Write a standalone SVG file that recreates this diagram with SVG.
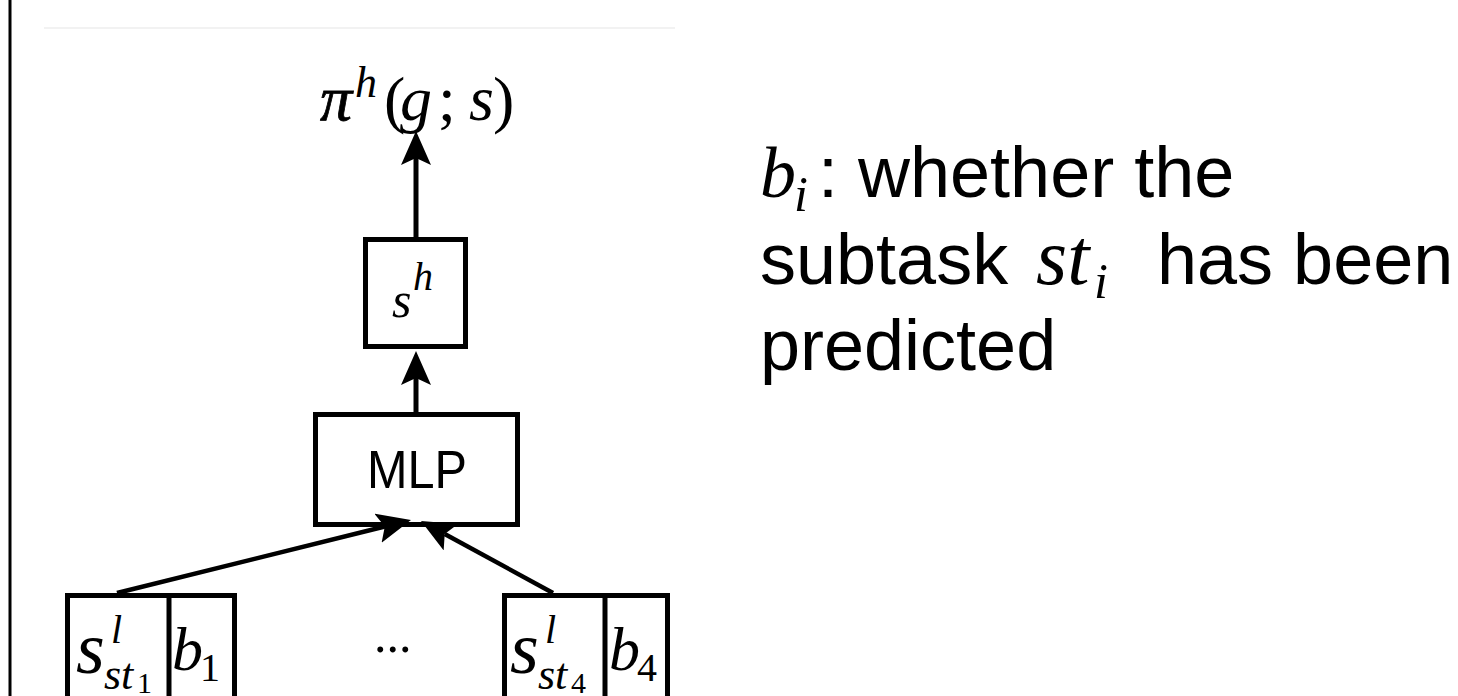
<svg xmlns="http://www.w3.org/2000/svg" width="1458" height="696" viewBox="0 0 1458 696">
  <style>
    .box { fill: #ffffff; stroke: #000000; stroke-width: 5; }
    .edge { fill: none; stroke: #000000; stroke-width: 5; }
    .edge-thin { fill: none; stroke: #000000; stroke-width: 4.5; }
    .math { font-family: "Liberation Serif", "Times New Roman", serif; font-style: italic; fill: #000000; }
    .num { font-family: "Liberation Serif", "Times New Roman", serif; font-style: normal; fill: #000000; }
    .sans { font-family: "Liberation Sans", Arial, sans-serif; fill: #000000; }
  </style>
  <defs>
    <marker id="head" markerUnits="userSpaceOnUse" markerWidth="34" markerHeight="30" refX="7" refY="15" orient="auto">
      <path d="M0,0 L34,15 L0,30 L7,15 Z" fill="#000000"/>
    </marker>
  </defs>

  <rect x="0" y="0" width="1458" height="696" fill="#ffffff"/>

  <!-- frame edge on the left and faint rule at the top -->
  <line x1="10" y1="0" x2="10" y2="696" stroke="#000000" stroke-width="3"/>
  <line x1="44" y1="28" x2="675" y2="28" stroke="#f2f2f2" stroke-width="2"/>

  <!-- output policy label -->
  <g id="policy">
    <text class="math" font-size="64" x="320" y="120" stroke="#000000" stroke-width="0.8">π</text>
    <text class="math" font-size="44" x="355" y="97">h</text>
    <text class="num" font-size="64" x="384" y="121">(</text>
    <text class="math" font-size="64" x="400" y="120">g</text>
    <text class="num" font-size="64" x="438" y="120">;</text>
    <text class="math" font-size="64" x="469" y="120">s</text>
    <text class="num" font-size="64" x="493" y="121">)</text>
  </g>

  <!-- high-level state -->
  <g id="state-h">
    <rect class="box" x="365.5" y="239.5" width="100" height="107"/>
    <text class="math" font-size="50" x="392" y="317">s</text>
    <text class="math" font-size="40" x="413" y="290">h</text>
  </g>

  <!-- MLP -->
  <g id="mlp">
    <rect class="box" x="315.5" y="414.5" width="202" height="110"/>
    <text class="sans" font-size="54" x="417" y="488" text-anchor="middle" textLength="100" lengthAdjust="spacingAndGlyphs">MLP</text>
  </g>

  <!-- first subtask input -->
  <g id="input-1">
    <rect class="box" x="67.5" y="595.5" width="167" height="130"/>
    <line x1="169" y1="595" x2="169" y2="696" stroke="#000000" stroke-width="5"/>
    <text class="math" font-size="74" x="76" y="673">s</text>
    <text class="math" font-size="40" x="111" y="643">l</text>
    <text class="math" font-size="44" x="104" y="689">st</text>
    <text class="num" font-size="30" x="137" y="693">1</text>
    <text class="math" font-size="62" x="172" y="670">b</text>
    <text class="num" font-size="40" x="200" y="681">1</text>
  </g>

  <g id="ellipsis">
    <text class="num" font-size="50" x="374" y="652">...</text>
  </g>

  <!-- fourth subtask input -->
  <g id="input-4">
    <rect class="box" x="504.5" y="595.5" width="163" height="130"/>
    <line x1="605" y1="595" x2="605" y2="696" stroke="#000000" stroke-width="5"/>
    <text class="math" font-size="74" x="510" y="673">s</text>
    <text class="math" font-size="40" x="545" y="643">l</text>
    <text class="math" font-size="44" x="538" y="689">st</text>
    <text class="num" font-size="30" x="571" y="693">4</text>
    <text class="math" font-size="62" x="609" y="670">b</text>
    <text class="num" font-size="40" x="637" y="681">4</text>
  </g>

  <!-- connectors -->
  <g id="connectors">
    <line class="edge" x1="416" y1="237" x2="416" y2="158" marker-end="url(#head)"/>
    <line class="edge" x1="416" y1="412" x2="416" y2="378" marker-end="url(#head)"/>
    <line class="edge-thin" x1="117" y1="593" x2="384.8" y2="526.5" marker-end="url(#head)"/>
    <line class="edge-thin" x1="553" y1="593" x2="444.7" y2="533.9" marker-end="url(#head)"/>
  </g>

  <!-- legend -->
  <g id="legend">
    <text font-size="72" y="197">
      <tspan class="math" x="760">b</tspan><tspan class="math" font-size="50" x="794" y="211">i</tspan><tspan class="sans" x="818" y="197">: whether the</tspan>
    </text>
    <text font-size="72" y="284">
      <tspan class="sans" x="760">subtask</tspan><tspan class="math" font-size="80" x="1036">st</tspan><tspan class="math" font-size="50" x="1094" y="298">i</tspan><tspan class="sans" x="1157" y="284">has been</tspan>
    </text>
    <text class="sans" font-size="72" x="760" y="370">predicted</text>
  </g>
</svg>
